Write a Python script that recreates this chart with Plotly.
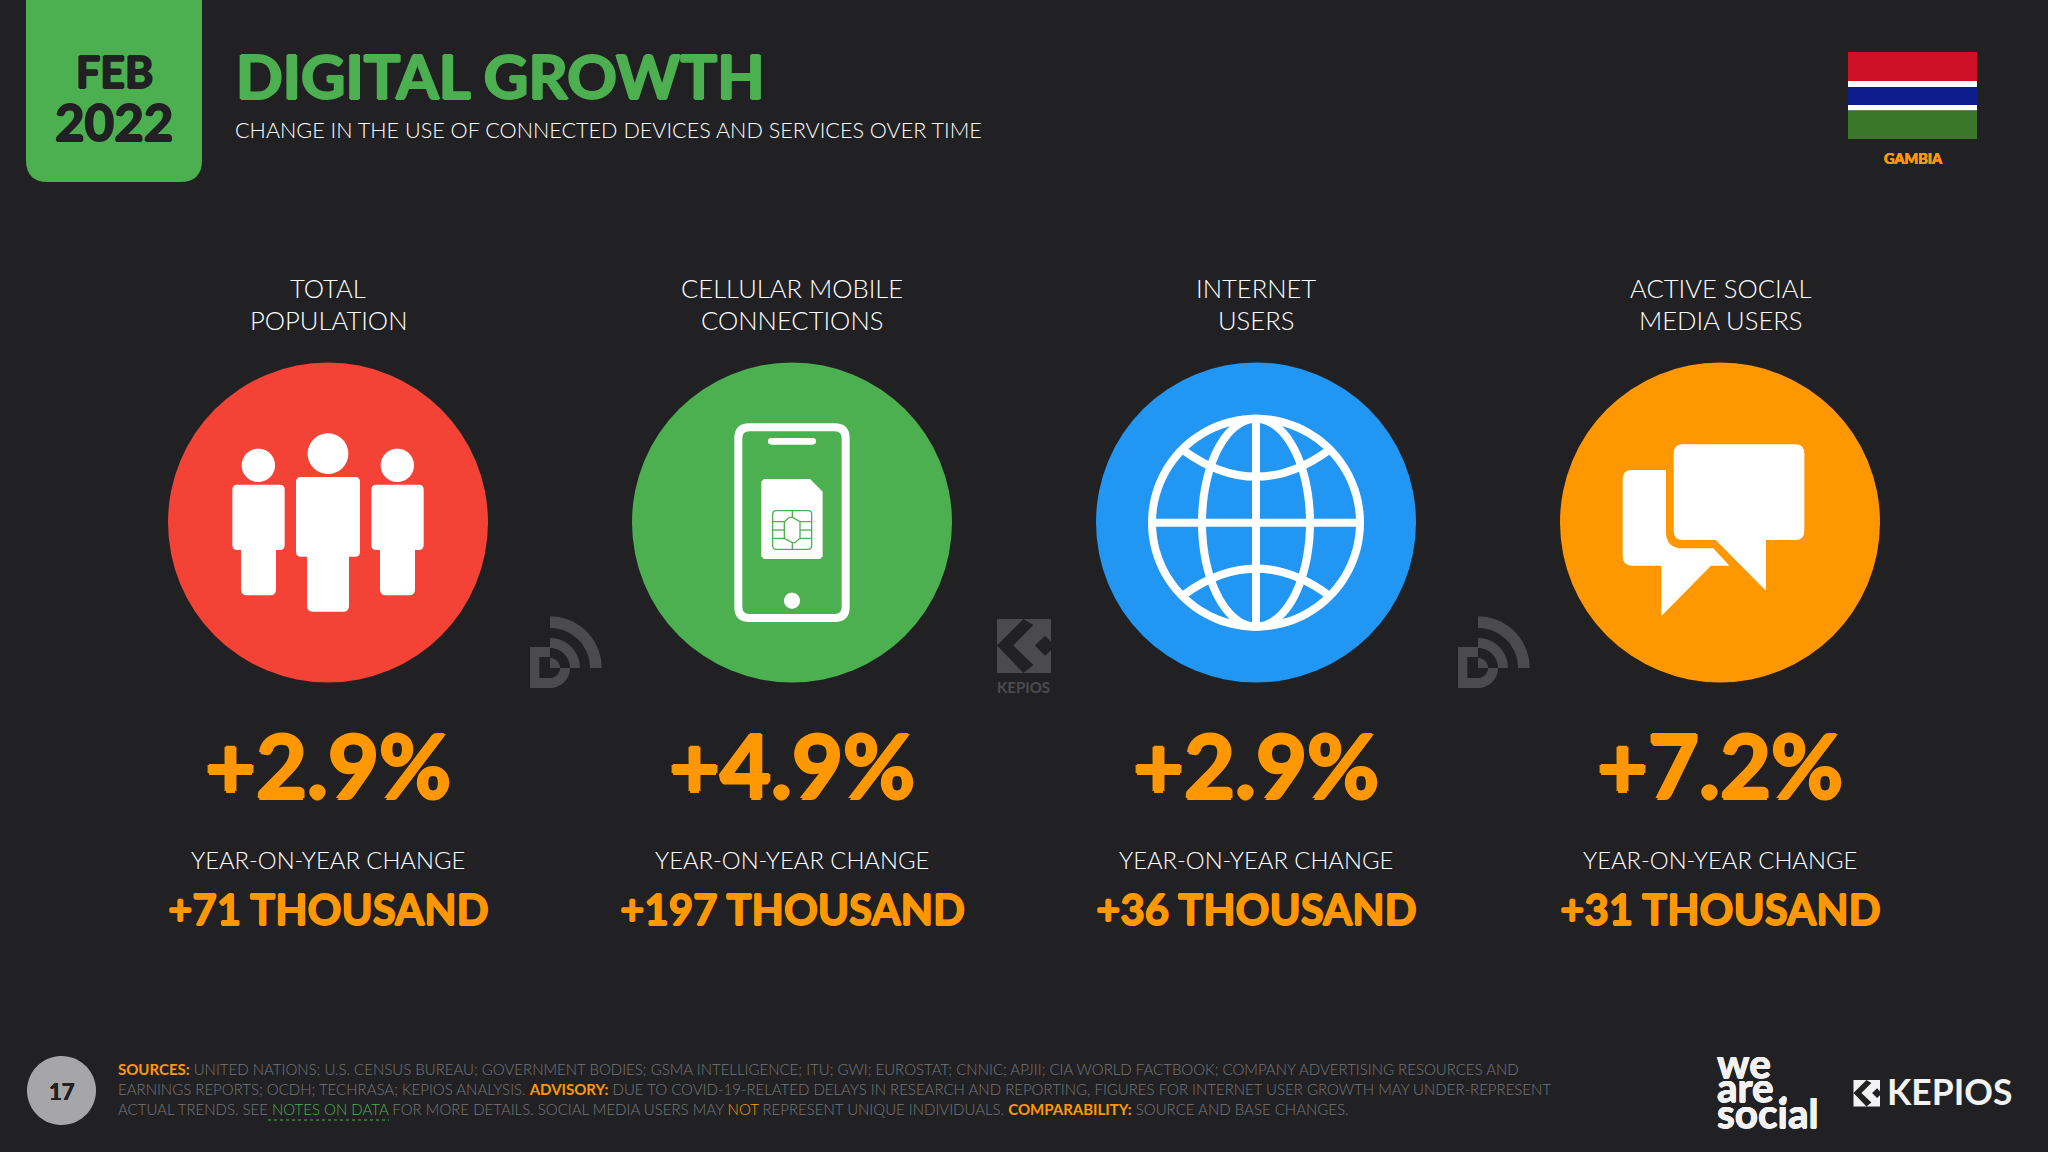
import numpy as np
import plotly.graph_objects as go

# ---- data ----
column_labels = [["TOTAL", "POPULATION"], ["CELLULAR MOBILE", "CONNECTIONS"],
                 ["INTERNET", "USERS"], ["ACTIVE SOCIAL", "MEDIA USERS"]]
pct_changes = ["+2.9%", "+4.9%", "+2.9%", "+7.2%"]
abs_changes = ["+71 THOUSAND", "+197 THOUSAND", "+36 THOUSAND", "+31 THOUSAND"]
change_label = "YEAR-ON-YEAR CHANGE"
circle_colors = ["#F44336", "#4CAF50", "#2196F3", "#FF9800"]
column_x = [328, 792, 1256, 1720]
title = "DIGITAL GROWTH"
subtitle = "CHANGE IN THE USE OF CONNECTED DEVICES AND SERVICES OVER TIME"

BG, GREEN, ORANGE, GREY, MARK = "#212123", "#4CAF50", "#FF9800", "#77777A", "#4B4B4D"
LIGHT = "'Lato', sans-serif"
HEAVY = "'Lato', sans-serif"
shapes = []
annos = []


def text(s, x, y, size, color="#FFFFFF", family=LIGHT, anchor="center", weight=300, fat=0):
    f = dict(size=size, color=color, family=family, weight=weight)
    if fat:
        f["shadow"] = (f"{fat}px 0 0 {color}, -{fat}px 0 0 {color}, 0 {fat}px 0 {color}, 0 -{fat}px 0 {color}")
    annos.append(dict(text=s, x=x, y=y, xref="x", yref="y", showarrow=False, xanchor=anchor,
                      yanchor="middle", font=f, borderpad=0, borderwidth=0))


def path(d, fill="#FFFFFF", line=None, width=0, rule=None):
    s = dict(type="path", path=d, xref="x", yref="y", fillcolor=fill,
             line=dict(color=line or "rgba(0,0,0,0)", width=width))
    if rule:
        s["fillrule"] = rule
    shapes.append(s)


def poly(pts, close=True):
    return "M" + " L".join(f"{x:.2f},{y:.2f}" for x, y in pts) + (" Z" if close else "")


def rrect(x0, y0, x1, y1, r):
    return (f"M{x0+r},{y0} L{x1-r},{y0} Q{x1},{y0} {x1},{y0+r} L{x1},{y1-r} Q{x1},{y1} {x1-r},{y1} "
            f"L{x0+r},{y1} Q{x0},{y1} {x0},{y1-r} L{x0},{y0+r} Q{x0},{y0} {x0+r},{y0} Z")


def arc(cx, cy, rx, ry, a0, a1, n=48):
    t = np.radians(np.linspace(a0, a1, n))
    return list(zip(cx + rx * np.cos(t), cy + ry * np.sin(t)))


def circle(cx, cy, r, fill="#FFFFFF"):
    path(poly(arc(cx, cy, r, r, 0, 360, 90)), fill)


# ---- header ----
path(f"M26,-30 L202,-30 L202,160 Q202,182 180,182 L48,182 Q26,182 26,160 Z", GREEN)
text("FEB", 114, 71, 43, BG, HEAVY, weight=700, fat=1)
text("2022", 114, 121, 51, BG, HEAVY, weight=700, fat=1)
text(title, 236, 75, 61.4, GREEN, HEAVY, "left", weight=700, fat=1.2)
text(subtitle, 235, 130, 21.6, anchor="left")

# flag
for y0, y1, c in [(52, 81, "#CE1126"), (81, 87, "#FFFFFF"), (87, 105, "#0C1C8C"),
                  (105, 110.5, "#FFFFFF"), (110.5, 139, "#3A7728")]:
    shapes.append(dict(type="rect", x0=1848, x1=1977, y0=y0, y1=y1, xref="x", yref="y",
                       fillcolor=c, line=dict(width=0)))
text("GAMBIA", 1913, 158, 14.5, ORANGE, HEAVY, weight=700, fat=0.3)

# ---- columns ----
for cx, lab, pct, ab in zip(column_x, column_labels, pct_changes, abs_changes):
    text(lab[0], cx, 288, 25.6)
    text(lab[1], cx, 320, 25.6)
    text(pct, cx, 764, 88, ORANGE, HEAVY, weight=700, fat=1.5)
    text(change_label, cx, 860, 23.8)
    text(ab, cx, 909, 42, ORANGE, HEAVY, weight=700, fat=0.8)


# people icon
def Z5(x, y):
    return 150 + x / 3, 350 + y / 3


for hx, hy, hr, bx0, bx1, by0, by1, lx0, lx1, ly1 in [
    (325, 346, 50, 247, 404, 404, 600, 273, 378, 736),
    (534, 311, 61, 438, 630, 381, 620, 471, 597, 785),
    (742, 346, 50, 664, 821, 404, 600, 690, 795, 736),
]:
    x, y = Z5(hx, hy)
    circle(x, y, hr / 3)
    a, b = Z5(bx0, by0), Z5(bx1, by1)
    path(rrect(a[0], a[1], b[0], b[1], 5))
    a, b = Z5(lx0, by1 - 40), Z5(lx1, ly1)
    path(rrect(a[0], a[1], b[0], b[1], 6))


# phone icon
def Z6(x, y):
    return 620 + x / 3, 350 + y / 3


a, b = Z6(355, 232), Z6(677, 804)
path(rrect(a[0], a[1], b[0], b[1], 11), "rgba(0,0,0,0)", "#FFFFFF", 8)
a, b = Z6(444, 264), Z6(588, 284)
path(rrect(a[0], a[1], b[0], b[1], 3.3))
x, y = Z6(516, 752)
circle(x, y, 8)
path(poly([Z6(*p) for p in [(432, 387), (570, 387), (608, 425), (608, 619), (600, 627),
                            (432, 627), (424, 619), (424, 395)]]))


# SIM chip
def Z12(x, y):
    return 750 + x / 3, 470 + y / 3


a, b = Z12(68, 122), Z12(185, 238)
path(rrect(a[0], a[1], b[0], b[1], 3.5), "rgba(0,0,0,0)", GREEN, 1.3)
for seg in [[(68, 155), (103, 155), (103, 205), (68, 205)], [(68, 180), (103, 180)],
            [(185, 155), (150, 155), (150, 205), (185, 205)], [(185, 180), (150, 180)],
            [(127, 122), (127, 142), (150, 155)], [(127, 238), (127, 218), (103, 205)],
            [(103, 155), (118, 142), (127, 142)], [(150, 205), (135, 218), (127, 218)]]:
    path(poly([Z12(*p) for p in seg], close=False), "rgba(0,0,0,0)", GREEN, 1.3)

# globe icon
gx, gy = 1256, 522.7
path(poly(arc(gx, gy, 104, 104, 0, 360, 120)), "rgba(0,0,0,0)", "#FFFFFF", 8)
path(poly(arc(gx, gy, 54, 104, 0, 360, 90)), "rgba(0,0,0,0)", "#FFFFFF", 8)
path(f"M{gx},{gy-104} L{gx},{gy+104}", "rgba(0,0,0,0)", "#FFFFFF", 8)
path(f"M{gx-104},{gy} L{gx+104},{gy}", "rgba(0,0,0,0)", "#FFFFFF", 8)
path(f"M{gx-72},{gy-72} Q{gx},{gy-20} {gx+72},{gy-72}", "rgba(0,0,0,0)", "#FFFFFF", 8)
path(f"M{gx-72},{gy+72} Q{gx},{gy+20} {gx+72},{gy+72}", "rgba(0,0,0,0)", "#FFFFFF", 8)


# chat icon
def Z8(x, y):
    return 1450 + x / 3, 350 + y / 3


def zpath(cmds):
    out = []
    for c, *p in cmds:
        out.append(c + " ".join("%.2f,%.2f" % Z8(p[i], p[i + 1]) for i in range(0, len(p), 2)))
    return " ".join(out) + " Z"


path(zpath([("M", 699, 283), ("L", 1035, 283), ("Q", 1063, 283, 1063, 311), ("L", 1063, 542),
            ("Q", 1063, 570, 1035, 570), ("L", 948, 570), ("L", 948, 722), ("L", 797, 570),
            ("L", 699, 570), ("Q", 671, 570, 671, 542), ("L", 671, 311), ("Q", 671, 283, 699, 283)]))
path(zpath([("M", 546, 360), ("L", 648, 360), ("L", 648, 545), ("Q", 648, 595, 698, 595),
            ("L", 790, 595), ("L", 838, 647), ("L", 783, 647), ("L", 634, 798), ("L", 634, 647),
            ("L", 546, 647), ("Q", 518, 647, 518, 619), ("L", 518, 388), ("Q", 518, 360, 546, 360)]))


# watermarks
def d_mark(ox, oy):
    def q(x, y):
        return ox + (x - 30) / 3, oy + (y - 22) / 3
    cx, cy = 90, 175

    def band(r0, r1):
        pts = [q(cx + r1 * np.cos(t), cy + r1 * np.sin(t)) for t in np.radians(np.linspace(-90, 0, 30))]
        pts += [q(cx + r0 * np.cos(t), cy + r0 * np.sin(t)) for t in np.radians(np.linspace(0, -90, 30))]
        return poly(pts)
    path(band(120, 155), MARK)
    path(band(60, 90), MARK)
    outer = [q(30, 112), q(90, 112), q(90, 142), q(58, 142), q(58, 205), q(90, 205)]
    outer += [q(cx + 30 * np.cos(t), cy + 30 * np.sin(t)) for t in np.radians(np.linspace(90, 0, 20))]
    outer += [q(150, 175)]
    outer += [q(cx + 60 * np.cos(t), cy + 60 * np.sin(t)) for t in np.radians(np.linspace(0, 90, 20))]
    outer += [q(30, 235)]
    path(poly(outer), MARK)
    path(poly([q(90, 145)] + [q(cx + 30 * np.cos(t), cy + 30 * np.sin(t))
                              for t in np.radians(np.linspace(-90, 0, 15))] + [q(90, 175)]), MARK)


d_mark(530, 617)
d_mark(1458, 617)


def k_mark(x0, y0, s, fg, bg):
    def q(u, v):
        return x0 + u * s, y0 + v * s
    path(poly([q(0, 0), q(1, 0), q(1, 1), q(0, 1)]), fg)
    path(poly([q(.49, 0), q(.675, .11), q(.30, .49), q(.675, .85), q(.49, 1), q(0, .49)]), bg)
    path(poly([q(.70, .49), q(.89, .31), q(1, .42), q(1, .58), q(.89, .68)]), bg)


k_mark(997, 619, 54, MARK, BG)
text("KEPIOS", 1023.5, 686.5, 15, MARK, HEAVY, weight=700)

# ---- footer ----
circle(61.5, 1090.5, 34.5, "#A6A6A8")
text("17", 61.5, 1091, 22, BG, HEAVY, weight=700, fat=0.3)
or_b = lambda s: f'<b><span style="color:{ORANGE}">{s}</span></b>'
footer_lines = [
    or_b("SOURCES:") + " UNITED NATIONS; U.S. CENSUS BUREAU; GOVERNMENT BODIES; GSMA INTELLIGENCE; ITU; GWI; "
    "EUROSTAT; CNNIC; APJII; CIA WORLD FACTBOOK; COMPANY ADVERTISING RESOURCES AND",
    "EARNINGS REPORTS; OCDH; TECHRASA; KEPIOS ANALYSIS. " + or_b("ADVISORY:") + " DUE TO COVID-19-RELATED DELAYS "
    "IN RESEARCH AND REPORTING, FIGURES FOR INTERNET USER GROWTH MAY UNDER-REPRESENT",
    f'ACTUAL TRENDS. SEE <span style="color:{GREEN}">NOTES ON DATA</span> FOR MORE DETAILS. SOCIAL MEDIA USERS MAY '
    f'<span style="color:{ORANGE}">NOT</span> REPRESENT UNIQUE INDIVIDUALS. ' + or_b("COMPARABILITY:")
    + " SOURCE AND BASE CHANGES.",
]
for line, y in zip(footer_lines, [1069, 1089, 1109]):
    text(line, 117.5, y, 15.0, GREY, LIGHT, "left")
shapes.append(dict(type="line", x0=268, x1=389, y0=1120, y1=1120, xref="x", yref="y",
                   line=dict(color=GREEN, width=1, dash="dot")))

# logos
for s, y in [("we", 1062), ("are", 1086), ("social", 1112)]:
    text(s, 1717, y, 40.5, "#F2F2F2", HEAVY, "left", weight=700, fat=0.5)
circle(1784, 1099, 3, "#F2F2F2")
k_mark(1853.5, 1080, 26.5, "#F2F2F2", BG)
text("KEPIOS", 1887, 1091, 35.5, "#F2F2F2", HEAVY, "left", weight=700)

fig = go.Figure()
fig.add_trace(go.Scatter(x=column_x, y=[522.5] * 4, mode="markers", hoverinfo="skip",
                         marker=dict(size=320, color=circle_colors, line=dict(width=0))))
fig.update_layout(
    width=2048, height=1152, autosize=False, showlegend=False,
    margin=dict(l=0, r=0, t=0, b=0, pad=0), paper_bgcolor=BG, plot_bgcolor=BG,
    xaxis=dict(range=[0, 2048], visible=False, fixedrange=True),
    yaxis=dict(range=[1152, 0], visible=False, fixedrange=True),
    shapes=shapes, annotations=annos,
)
fig.write_html("out.html", config=dict(displayModeBar=False),
               post_script="document.body.style.margin='0';document.body.style.background='%s';" % BG)
